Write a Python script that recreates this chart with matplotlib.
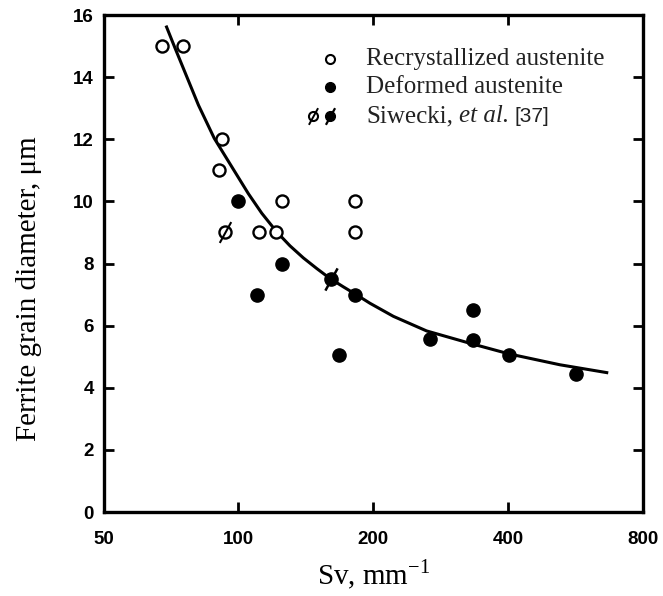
import matplotlib
matplotlib.use("Agg")
import matplotlib.pyplot as plt
from matplotlib.path import Path

# data
recryst_sv = [67.4, 75.1, 91.9, 90.6, 124.9, 182, 111.3, 121.3, 182]
recryst_d = [15, 15, 12, 11, 10, 10, 9, 9, 9]

deformed_sv = [99.9, 124.9, 110.2, 182, 167.4, 267.7, 333, 333, 402, 567]
deformed_d = [10, 8, 7, 7, 5.05, 5.56, 6.5, 5.55, 5.05, 4.45]

siwecki_recryst_sv = [93.3]
siwecki_recryst_d = [9]
siwecki_deformed_sv = [160.7]
siwecki_deformed_d = [7.5]

# fitted curve, points
curve_sv = [68.9, 72.2, 81.4, 88.3, 97.9, 105.2, 112.7, 121.7, 130.3, 139.6,
            149.5, 160, 171.4, 183.6, 196.6, 221.7, 263, 329, 402, 522, 669]
curve_d = [15.66, 14.93, 13.1, 12.03, 10.98, 10.25, 9.62, 9.02, 8.57, 8.18,
           7.84, 7.52, 7.25, 6.99, 6.72, 6.3, 5.83, 5.43, 5.09, 4.74, 4.48]

x_ticks = [50, 100, 200, 400, 800]
y_ticks = [0, 2, 4, 6, 8, 10, 12, 14, 16]

legend_labels = ["Recrystallized austenite", "Deformed austenite"]

SERIF = "Liberation Serif"
SANS = "Liberation Sans"

plt.rcParams["mathtext.fontset"] = "custom"
plt.rcParams["mathtext.rm"] = SERIF

slash = Path([(-0.55, -1.0), (0.55, 1.0)], [Path.MOVETO, Path.LINETO])

fig = plt.figure(figsize=(6.63, 5.96), dpi=100)
ax = fig.add_axes([0.1563, 0.1409, 0.8136, 0.8339])

ax.plot(curve_sv, curve_d, color="black", lw=2.2, solid_capstyle="butt",
        solid_joinstyle="round", zorder=2)

ax.plot(recryst_sv, recryst_d, "o", ms=8.7, mfc="white", mec="black", mew=1.7, zorder=3)
ax.plot(deformed_sv, deformed_d, "o", ms=9.5, mfc="black", mec="black", zorder=3)

ax.plot(siwecki_recryst_sv, siwecki_recryst_d, "o", ms=8.7, mfc="white", mec="black", mew=1.7, zorder=3)
ax.plot(siwecki_recryst_sv, siwecki_recryst_d, marker=slash, ms=15, mec="black", mew=1.5, ls="none", zorder=4)
ax.plot(siwecki_deformed_sv, siwecki_deformed_d, "o", ms=9.5, mfc="black", mec="black", zorder=3)
ax.plot(siwecki_deformed_sv, siwecki_deformed_d, marker=slash, ms=16, mec="black", mew=1.8, ls="none", zorder=4)

ax.set_xscale("log")
ax.set_xlim(50, 800)
ax.set_ylim(0, 16)
ax.set_xticks(x_ticks)
ax.set_xticklabels([str(t) for t in x_ticks])
ax.minorticks_off()
ax.set_yticks(y_ticks)

for sp in ax.spines.values():
    sp.set_linewidth(2.4)
ax.tick_params(which="major", direction="in", length=7, width=2,
               top=True, right=True, labelsize=13.5)
ax.tick_params(axis="x", pad=14)
ax.tick_params(axis="y", pad=7)
for lab in ax.get_xticklabels() + ax.get_yticklabels():
    lab.set_fontfamily(SANS)
    lab.set_fontweight("bold")

ax.set_xlabel("Sv, mm$^{-1}$", fontsize=21, family=SERIF, labelpad=7)
ax.set_ylabel("Ferrite grain diameter, \u03bcm", fontsize=21, family=SERIF)
ax.yaxis.set_label_coords(-0.115, 0.45)

# legend drawn by hand
ax.plot([0.4197], [0.9115], "o", ms=6.5, mfc="white", mec="black", mew=1.5,
        transform=ax.transAxes, clip_on=False)
ax.plot([0.4197], [0.855], "o", ms=7, mfc="black", mec="black",
        transform=ax.transAxes, clip_on=False)
ax.plot([0.388], [0.797], "o", ms=6.5, mfc="white", mec="black", mew=1.5,
        transform=ax.transAxes, clip_on=False)
ax.plot([0.388], [0.797], marker=slash, ms=12, mec="black", mew=1.4,
        transform=ax.transAxes, clip_on=False)
ax.plot([0.4197], [0.797], "o", ms=7, mfc="black", mec="black",
        transform=ax.transAxes, clip_on=False)
ax.plot([0.4197], [0.797], marker=slash, ms=12, mec="black", mew=1.6,
        transform=ax.transAxes, clip_on=False)

ax.text(0.4864, 0.8994, legend_labels[0], transform=ax.transAxes,
        fontsize=18, family=SERIF, va="baseline", color="#222222")
ax.text(0.4864, 0.8431, legend_labels[1], transform=ax.transAxes,
        fontsize=18, family=SERIF, va="baseline", color="#222222")
t1 = ax.text(0.4864, 0.7847, "Siwecki,", transform=ax.transAxes,
             fontsize=18, family=SERIF, va="baseline", color="#222222")
t2 = ax.annotate("et al.", xy=(1, 0), xycoords=t1, xytext=(4.5, 0),
                 textcoords="offset points", va="bottom", ha="left",
                 fontsize=18, family=SERIF, style="italic", color="#222222")
ax.annotate("[37]", xy=(1, 0), xycoords=t2, xytext=(4, 0.5),
            textcoords="offset points", va="bottom", ha="left",
            fontsize=15, family=SANS, color="#222222")

fig.savefig("out.png", dpi=100)
